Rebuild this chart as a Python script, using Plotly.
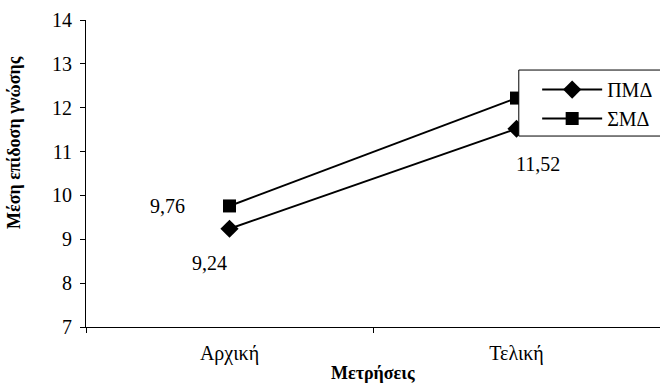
import plotly.graph_objects as go

categories = ["Αρχική", "Τελική"]
pmd_values = [9.24, 11.52]
smd_values = [9.76, 12.22]
pmd_name = "ΠΜΔ"
smd_name = "ΣΜΔ"
y_ticks = [7, 8, 9, 10, 11, 12, 13, 14]

FONT = "Liberation Serif"
FS = 20

fig = go.Figure()
fig.add_trace(go.Scatter(
    x=categories, y=pmd_values, name=pmd_name, mode="lines+markers",
    legendgroup="a",
    line=dict(color="black", width=2),
    marker=dict(symbol="diamond", size=14, color="black"),
))
fig.add_trace(go.Scatter(
    x=categories, y=smd_values, name=smd_name, mode="lines+markers",
    legendgroup="b",
    line=dict(color="black", width=2),
    marker=dict(symbol="square", size=13, color="black"),
))

def fmt(v):
    return f"{v:.2f}".replace(".", ",")

labels = [
    (categories[0], smd_values[0], -62, 0),
    (categories[0], pmd_values[0], -20, -34),
    (categories[1], pmd_values[1], 21, -35),
]
for xv, yv, dx, dy in labels:
    fig.add_annotation(x=xv, y=yv, text=fmt(yv), showarrow=False,
                       xshift=dx, yshift=dy,
                       font=dict(family=FONT, size=FS, color="black"))

fig.add_annotation(xref="paper", yref="paper", x=0.5, y=-0.19,
                   text="<b>Μετρήσεις</b>", showarrow=False,
                   xanchor="center", yanchor="bottom",
                   font=dict(family=FONT, size=18, color="black"))
fig.add_annotation(xref="paper", yref="paper", x=-0.125, y=0.6,
                   text="<b>Μέση επίδοση γνώσης</b>", showarrow=False,
                   textangle=-90, xanchor="center", yanchor="middle",
                   font=dict(family=FONT, size=18, color="black"))

# legend box
fig.add_shape(type="rect", xref="paper", yref="paper",
              x0=0.754, x1=1.05, y0=0.622, y1=0.837,
              line=dict(color="black", width=1), fillcolor="white",
              layer="above")

fig.update_layout(
    width=660, height=387,
    margin=dict(l=86, r=0, t=20, b=60),
    paper_bgcolor="white", plot_bgcolor="white",
    font=dict(family=FONT, size=FS, color="black"),
    showlegend=True,
    legend=dict(x=0.786, y=0.837, xanchor="left", yanchor="top",
                bgcolor="rgba(0,0,0,0)", borderwidth=0,
                font=dict(family=FONT, size=FS, color="black"),
                tracegroupgap=0, itemwidth=60),
    xaxis=dict(type="category", range=[-0.5, 1.5], tickson="boundaries",
               ticks="outside", ticklen=5, tickcolor="black",
               showline=True, linecolor="black", linewidth=1,
               showgrid=False, zeroline=False, automargin=False,
               ticklabelstandoff=8,
               tickfont=dict(family=FONT, size=FS)),
    yaxis=dict(range=[7, 14], tickvals=y_ticks, ticks="outside", ticklen=5,
               tickcolor="black", showline=True, linecolor="black", linewidth=1,
               showgrid=False, zeroline=False, automargin=False,
               ticklabelstandoff=4,
               tickfont=dict(family=FONT, size=FS)),
)

fig.write_html("out.html", config={"displayModeBar": False},
               post_script="document.body.style.margin='0';document.body.style.overflow='hidden';")
